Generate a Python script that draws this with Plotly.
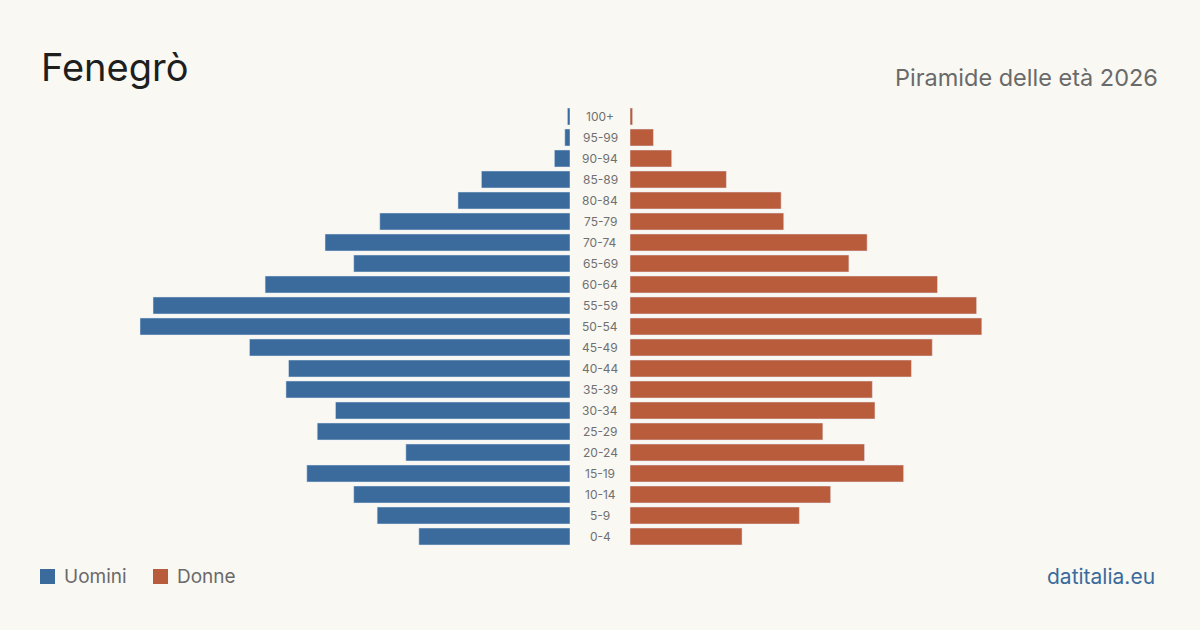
import plotly.graph_objects as go

ages = ["0-4", "5-9", "10-14", "15-19", "20-24", "25-29", "30-34", "35-39", "40-44",
        "45-49", "50-54", "55-59", "60-64", "65-69", "70-74", "75-79", "80-84",
        "85-89", "90-94", "95-99", "100+"]
uomini = [58, 74, 83, 101, 63, 97, 90, 109, 108, 123, 165, 160, 117, 83, 94, 73, 43, 34, 6, 2, 1]
donne = [43, 65, 77, 105, 90, 74, 94, 93, 108, 116, 135, 133, 118, 84, 91, 59, 58, 37, 16, 9, 1]

BG = "#f9f8f3"
BLUE = "#3a6b9c"
ORANGE = "#b95c3c"
FONT = "Inter, sans-serif"

W, H = 1200, 630
left_dom = [40 / W, 570 / W]
right_dom = [630 / W, 1160 / W]
rng = max(uomini) * 530 / 430

fig = go.Figure()
fig.add_trace(go.Bar(y=ages, x=uomini, orientation="h", marker_color=BLUE, name="Uomini",
                     xaxis="x", yaxis="y", width=0.81, showlegend=False,
                     hovertemplate="%{y}: %{x}<extra>Uomini</extra>"))
fig.add_trace(go.Bar(y=ages, x=donne, orientation="h", marker_color=ORANGE, name="Donne",
                     xaxis="x2", yaxis="y2", width=0.81, showlegend=False,
                     hovertemplate="%{y}: %{x}<extra>Donne</extra>"))

ydom = [1 - 547 / H, 1 - 106 / H]
fig.update_layout(
    width=W, height=H,
    paper_bgcolor=BG, plot_bgcolor=BG,
    margin=dict(l=0, r=0, t=0, b=0),
    font=dict(family=FONT),
    xaxis=dict(domain=left_dom, range=[rng, 0], visible=False, fixedrange=True),
    xaxis2=dict(domain=right_dom, range=[0, rng], visible=False, fixedrange=True),
    yaxis=dict(domain=ydom, anchor="x", range=[-0.5, 20.5], visible=False,
               categoryorder="array", categoryarray=ages),
    yaxis2=dict(domain=ydom, anchor="x2", range=[-0.5, 20.5], visible=False,
                categoryorder="array", categoryarray=ages),
    bargap=0.19,
)

for a in ages:
    fig.add_annotation(x=600 / W, xref="paper", y=a, yref="y", text=a, showarrow=False,
                       xanchor="center", yanchor="middle",
                       font=dict(size=12, color="#707070", family=FONT))

fig.add_annotation(x=39 / W, y=1 - 67 / H, xref="paper", yref="paper", text="Fenegrò",
                   showarrow=False, xanchor="left", yanchor="middle",
                   font=dict(size=38, color="#1e1e1e", family=FONT))
fig.add_annotation(x=1160 / W, y=1 - 77 / H, xref="paper", yref="paper",
                   text="Piramide delle età 2026", showarrow=False, xanchor="right",
                   yanchor="middle", font=dict(size=23.5, color="#6a6a6a", family=FONT))
fig.add_annotation(x=1157 / W, y=1 - 576 / H, xref="paper", yref="paper", text="datitalia.eu",
                   showarrow=False, xanchor="right", yanchor="middle",
                   font=dict(size=21, color="#3a6b9c", family=FONT))

# legend
for x0, col, label in [(40, BLUE, "Uomini"), (153, ORANGE, "Donne")]:
    fig.add_shape(type="rect", xref="paper", yref="paper",
                  x0=x0 / W, x1=(x0 + 15) / W, y0=1 - 584 / H, y1=1 - 569 / H,
                  fillcolor=col, line_width=0)
    fig.add_annotation(x=(x0 + 22) / W, y=1 - 576 / H, xref="paper", yref="paper", text=label,
                       showarrow=False, xanchor="left", yanchor="middle",
                       font=dict(size=19, color="#6a6a6a", family=FONT))

fig.write_html("out.html")
